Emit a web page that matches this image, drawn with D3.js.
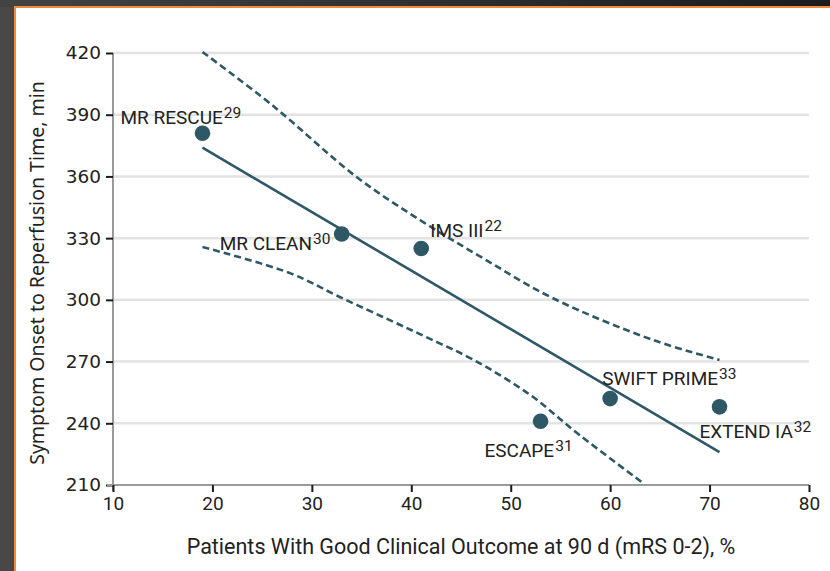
<!DOCTYPE html>
<html>
<head>
<meta charset="utf-8">
<script src="https://cdn.jsdelivr.net/npm/d3@7"></script>
<style>
  html, body { margin: 0; padding: 0; background: #454545; }
  svg { display: block; }
</style>
</head>
<body>
<svg id="chart" width="830" height="571"></svg>
<script>
// ---- data ----
const trials   = ["MR RESCUE", "MR CLEAN", "IMS III", "ESCAPE", "SWIFT PRIME", "EXTEND IA"];
const refs     = ["29", "30", "22", "31", "33", "32"];
const outcome  = [19, 33, 41, 53, 60, 71];          // % good outcome
const onsetMin = [381, 332, 325, 241, 252, 248];    // min to reperfusion

const fitX = [19, 71];
const fitY = [374, 226];

const upperX = [19, 26, 34.5, 41.2, 47.2, 54.2, 64.3, 71];
const upperY = [420.5, 394.7, 359.7, 337.8, 320.3, 300.9, 280.5, 270.8];
const lowerX = [19, 27.8, 32.8, 37.9, 41.9, 46.2, 51.9, 57, 63.3];
const lowerY = [325.7, 313, 301.4, 290, 281, 271, 254, 234, 211];

const xTicks = [10, 20, 30, 40, 50, 60, 70, 80];
const yTicks = [210, 240, 270, 300, 330, 360, 390, 420];

const xTitle = "Patients With Good Clinical Outcome at 90 d (mRS 0-2), %";
const yTitle = "Symptom Onset to Reperfusion Time, min";

// ---- drawing ----
const svg = d3.select("#chart");
const W = 830, H = 571;
const ink = "#2f5866";

// frame
const grad = svg.append("defs").append("linearGradient").attr("id", "topg");
grad.append("stop").attr("offset", "0%").attr("stop-color", "#434343");
grad.append("stop").attr("offset", "100%").attr("stop-color", "#1c1c1c");
svg.append("rect").attr("x", 0).attr("y", 0).attr("width", W).attr("height", H).attr("fill", "#484848");
svg.append("rect").attr("x", 0).attr("y", 0).attr("width", W).attr("height", 7).attr("fill", "url(#topg)");
svg.append("rect").attr("x", 14).attr("y", 6).attr("width", W - 14).attr("height", H - 6).attr("fill", "#f08a3c");
svg.append("rect").attr("x", 16).attr("y", 8).attr("width", W - 16).attr("height", H - 8).attr("fill", "#ffffff");

const x = d3.scaleLinear().domain([10, 80]).range([113, 809]);
const y = d3.scaleLinear().domain([210, 420]).range([485, 53]);

// gridlines
svg.append("g").selectAll("line").data(yTicks.filter(d => d !== 210)).join("line")
  .attr("x1", x(10)).attr("x2", x(80))
  .attr("y1", d => y(d)).attr("y2", d => y(d))
  .attr("stroke", "#e3e3e3").attr("stroke-width", 2.5);

// axes
const yAxis = d3.axisLeft(y).tickValues(yTicks).tickSize(7).tickPadding(5);
const gy = svg.append("g").attr("transform", `translate(${x(10)},0)`).call(yAxis);
gy.select(".domain").attr("stroke", "#9a9a9a").attr("stroke-width", 2).attr("d", `M0,${y(420)}V${y(210) + 6}`);
gy.selectAll(".tick line").attr("stroke", "#1a1a1a").attr("stroke-width", 2);
gy.selectAll(".tick text").attr("font-family", "DejaVu Sans, sans-serif").attr("font-size", 18.5).attr("fill", "#222");

const xAxis = d3.axisBottom(x).tickValues(xTicks).tickSize(7).tickPadding(5);
const gx = svg.append("g").attr("transform", `translate(0,${y(210)})`).call(xAxis);
gx.select(".domain").attr("stroke", "#9a9a9a").attr("stroke-width", 2).attr("d", `M${x(10) - 6},0H${x(80)}`);
gx.selectAll(".tick line").attr("stroke", "#1a1a1a").attr("stroke-width", 2);
gx.selectAll(".tick text").attr("font-family", "Roboto, sans-serif").attr("font-size", 19).attr("fill", "#222");

// titles
svg.append("text").attr("x", (x(10) + x(80)) / 2).attr("y", 554)
  .attr("text-anchor", "middle").attr("font-family", "Roboto, sans-serif").attr("font-size", 21.5)
  .attr("fill", "#222").text(xTitle);
svg.append("text").attr("transform", `translate(44,${(y(210) + y(420)) / 2 + 4}) rotate(-90)`)
  .attr("text-anchor", "middle").attr("font-family", "Noto Sans, sans-serif").attr("font-size", 19.5)
  .attr("fill", "#222").text(yTitle);

// confidence band lines
const line = d3.line().x(d => x(d[0])).y(d => y(d[1])).curve(d3.curveCatmullRom);
svg.append("path").datum(d3.zip(upperX, upperY)).attr("d", line)
  .attr("fill", "none").attr("stroke", ink).attr("stroke-width", 2.6).attr("stroke-dasharray", "7,4");
svg.append("path").datum(d3.zip(lowerX, lowerY)).attr("d", line)
  .attr("fill", "none").attr("stroke", ink).attr("stroke-width", 2.6).attr("stroke-dasharray", "7,4");

// regression line
svg.append("path").datum(d3.zip(fitX, fitY)).attr("d", d3.line().x(d => x(d[0])).y(d => y(d[1])))
  .attr("fill", "none").attr("stroke", ink).attr("stroke-width", 2.6);

// points
svg.append("g").selectAll("circle").data(d3.range(trials.length)).join("circle")
  .attr("cx", i => x(outcome[i])).attr("cy", i => y(onsetMin[i])).attr("r", 7.8).attr("fill", ink);

// labels (offsets relative to each point)
const labelOffsets = [[-82, -9], [-122, 16], [9, -11], [-56, 36], [-8, -14], [-20, 31]];
const lab = svg.append("g").attr("font-family", "Roboto, sans-serif").attr("fill", "#222");
trials.forEach((t, i) => {
  const tx = lab.append("text")
    .attr("x", x(outcome[i]) + labelOffsets[i][0])
    .attr("y", y(onsetMin[i]) + labelOffsets[i][1])
    .attr("font-size", 19);
  tx.append("tspan").text(t);
  tx.append("tspan").attr("font-size", 15.5).attr("dy", -6).attr("dx", 1).text(refs[i]);
});
</script>
</body>
</html>
